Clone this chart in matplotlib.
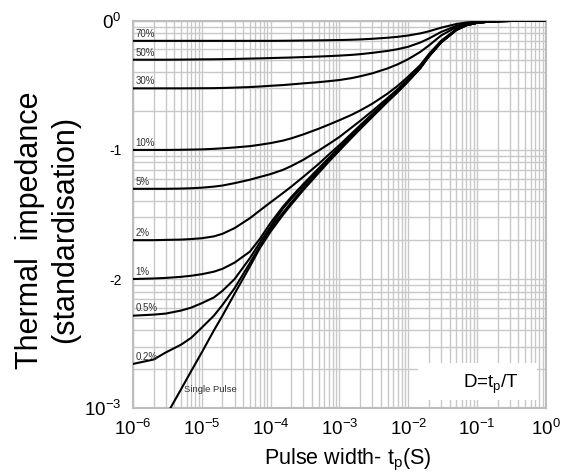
import numpy as np
import matplotlib
matplotlib.use('Agg')
from matplotlib import pyplot as plt
from matplotlib.patches import Rectangle

plt.rcParams['font.family'] = ['Liberation Sans', 'DejaVu Sans']
plt.rcParams['mathtext.fontset'] = 'custom'
plt.rcParams['mathtext.rm'] = 'Liberation Sans'
plt.rcParams['mathtext.it'] = 'Liberation Sans'
plt.rcParams['mathtext.default'] = 'regular'

# pulse width (s) where the curves were read
tp = [1e-6, 2e-6, 3e-6, 5e-6, 7e-6, 1e-5, 1.5e-5, 2e-5, 3e-5, 5e-5, 7e-5,
      1e-4, 1.5e-4, 2e-4, 3e-4, 5e-4, 7e-4, 1e-3, 1.5e-3, 2e-3, 3e-3, 5e-3, 7e-3,
      1e-2, 1.5e-2, 2e-2, 3e-2, 5e-2, 7e-2, 1e-1, 1.5e-1, 2e-1, 3e-1, 5e-1, 1.0]

# normalised thermal impedance, one list per duty cycle
z_70 = [0.70, 0.70, 0.70, 0.70, 0.70, 0.70, 0.70, 0.70, 0.70, 0.70, 0.70,
        0.70, 0.701, 0.702, 0.704, 0.706, 0.708, 0.71, 0.714, 0.718, 0.726, 0.74, 0.752,
        0.77, 0.80, 0.83, 0.885, 0.945, 0.972, 0.986, 0.994, 0.997, 0.999, 1.0, 1.0]
z_50 = [0.500, 0.500, 0.500, 0.501, 0.502, 0.503, 0.504, 0.505, 0.507, 0.510, 0.512,
        0.515, 0.518, 0.520, 0.524, 0.529, 0.533, 0.538, 0.545, 0.552, 0.565, 0.585, 0.603,
        0.63, 0.68, 0.73, 0.82, 0.915, 0.957, 0.98, 0.991, 0.996, 0.999, 1.0, 1.0]
z_30 = [0.300, 0.300, 0.300, 0.300, 0.3003, 0.3006, 0.301, 0.302, 0.304, 0.307, 0.310,
        0.314, 0.318, 0.322, 0.328, 0.335, 0.341, 0.348, 0.36, 0.372, 0.392, 0.428, 0.46,
        0.505, 0.575, 0.645, 0.77, 0.895, 0.948, 0.975, 0.989, 0.995, 0.998, 1.0, 1.0]
z_10 = [0.100, 0.100, 0.100, 0.1003, 0.1006, 0.101, 0.102, 0.103, 0.1045, 0.107, 0.1097,
        0.113, 0.118, 0.123, 0.132, 0.146, 0.157, 0.17, 0.187, 0.202, 0.228, 0.273, 0.313,
        0.37, 0.455, 0.553, 0.70, 0.862, 0.932, 0.968, 0.987, 0.994, 0.998, 1.0, 1.0]
z_5 = [0.050, 0.050, 0.050, 0.0502, 0.0505, 0.051, 0.052, 0.053, 0.0553, 0.0588, 0.0618,
       0.065, 0.070, 0.075, 0.084, 0.099, 0.111, 0.126, 0.149, 0.168, 0.20, 0.252, 0.295,
       0.355, 0.443, 0.542, 0.69, 0.856, 0.929, 0.967, 0.987, 0.994, 0.998, 1.0, 1.0]
z_2 = [0.0200, 0.0200, 0.0201, 0.0202, 0.0204, 0.0207, 0.0214, 0.0224, 0.0248, 0.0296, 0.0340,
       0.0393, 0.0462, 0.052, 0.062, 0.078, 0.092, 0.109, 0.134, 0.155, 0.19, 0.245, 0.289,
       0.349, 0.437, 0.537, 0.685, 0.853, 0.927, 0.966, 0.986, 0.994, 0.998, 1.0, 1.0]
z_1 = [0.0100, 0.0101, 0.0102, 0.0104, 0.0106, 0.0109, 0.0114, 0.0120, 0.0134, 0.0163, 0.0205,
       0.0272, 0.0362, 0.0432, 0.0545, 0.072, 0.0865, 0.1045, 0.1295, 0.1505, 0.1855, 0.241, 0.285,
       0.345, 0.434, 0.534, 0.683, 0.852, 0.926, 0.966, 0.986, 0.994, 0.998, 1.0, 1.0]
z_05 = [0.0052, 0.0053, 0.0054, 0.0057, 0.0060, 0.0065, 0.0072, 0.0081, 0.0100, 0.0145, 0.0192,
        0.0255, 0.035, 0.0418, 0.053, 0.0704, 0.085, 0.103, 0.128, 0.149, 0.184, 0.24, 0.284,
        0.344, 0.433, 0.533, 0.682, 0.851, 0.926, 0.966, 0.986, 0.994, 0.998, 1.0, 1.0]
z_02 = [0.0022, 0.00238, 0.0027, 0.0031, 0.0035, 0.0042, 0.0052, 0.0063, 0.0085, 0.0133, 0.0180,
        0.0245, 0.0325, 0.0392, 0.0505, 0.068, 0.0825, 0.1005, 0.1255, 0.1465, 0.1815, 0.2375, 0.2815,
        0.3415, 0.431, 0.531, 0.681, 0.85, 0.925, 0.965, 0.986, 0.994, 0.998, 1.0, 1.0]

# single pulse
tp_sp = [3.5e-6, 5e-6, 7e-6, 1e-5, 1.5e-5, 2e-5, 3e-5, 5e-5, 7e-5,
         1e-4, 1.5e-4, 2e-4, 3e-4, 5e-4, 7e-4, 1e-3, 1.5e-3, 2e-3, 3e-3, 5e-3, 7e-3,
         1e-2, 1.5e-2, 2e-2, 3e-2, 5e-2, 7e-2, 1e-1, 1.5e-1, 2e-1, 3e-1, 5e-1, 1.0]
z_sp = [0.001, 0.0014, 0.00193, 0.0027, 0.0040, 0.0052, 0.0077, 0.0125, 0.0174,
        0.0233, 0.0312, 0.0378, 0.049, 0.0664, 0.081, 0.099, 0.124, 0.145, 0.18, 0.236, 0.28,
        0.34, 0.43, 0.53, 0.68, 0.85, 0.925, 0.965, 0.986, 0.994, 0.998, 1.0, 1.0]

labels = ['70%', '50%', '30%', '10%', '5%', '2%', '1%', '0.5%', '0.2%']
curves = [z_70, z_50, z_30, z_10, z_5, z_2, z_1, z_05, z_02]

fig = plt.figure(figsize=(5.61, 4.74), dpi=100)
ax = fig.add_axes([0.237, 0.139, 0.736, 0.817])

for lab, z in zip(labels, curves):
    ax.plot(tp, z, color='black', lw=1.5, zorder=3)
    ax.text(1.08e-6, z[0] * 1.04, lab, fontsize=7, color='#333333',
            ha='left', va='bottom', zorder=4)

ax.plot(tp_sp, z_sp, color='black', lw=1.5, zorder=3)
ax.text(5.6e-6, 0.0014, 'Single Pulse', fontsize=6.8, color='#333333',
        ha='left', va='center', zorder=4)

ax.set_xscale('log')
ax.set_yscale('log')
ax.set_xlim(1e-6, 1)
ax.set_ylim(1e-3, 1)

ax.grid(True, which='both', color='#c8c8c8', lw=1.0, zorder=0)
for s in ax.spines.values():
    s.set_color('#bdbdbd')
    s.set_linewidth(1.5)
ax.tick_params(which='both', length=0, pad=8)

ax.set_xticks([1e-6, 1e-5, 1e-4, 1e-3, 1e-2, 1e-1, 1])
ax.set_xticklabels(['$10^{-6}$', '$10^{-5}$', '$10^{-4}$', '$10^{-3}$',
                    '$10^{-2}$', '$10^{-1}$', '$10^{0}$'], fontsize=13.5)
ax.set_yticks([1e-3, 1e-2, 1e-1, 1])
ylabs = ax.set_yticklabels(['$10^{-3}$', '-2', '-1', '$0^{0}$'], fontsize=13.5)
ylabs[1].set_fontsize(10)
ylabs[2].set_fontsize(10)

ax.set_xlabel('Pulse width- t$_p$(S)', fontsize=15.5, labelpad=1)
ax.xaxis.set_label_coords(0.52, -0.1)

# white box with the duty-cycle definition
ax.add_patch(Rectangle((0.69, 0.02), 0.288, 0.096, transform=ax.transAxes,
                       fc='white', ec='none', zorder=5))
ax.text(0.867, 0.06, 'D=t$_p$/T', transform=ax.transAxes, fontsize=13.5,
        ha='center', va='center', zorder=6)

fig.text(0.085, 0.515, 'Thermal  impedance\n(standardisation)', rotation=90,
         fontsize=22, ha='center', va='center', multialignment='center',
         linespacing=1.2)

fig.savefig('out.png', dpi=100)
